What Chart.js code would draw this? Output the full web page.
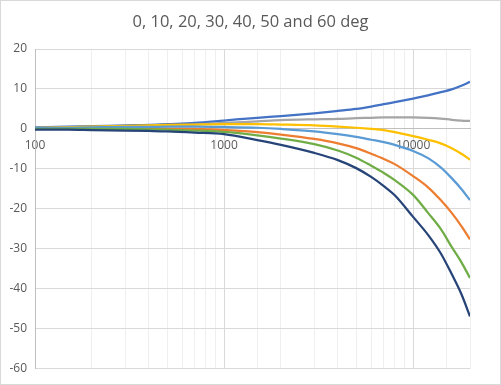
<!DOCTYPE html>
<html>
<head>
<meta charset="utf-8">
<script src="https://cdn.jsdelivr.net/npm/chart.js@4/dist/chart.umd.min.js"></script>
<style>
  html, body { margin: 0; padding: 0; background: #fff; }
  #wrap { width: 501px; height: 385px; box-sizing: border-box; border: 1px solid #D9D9D9; }
</style>
</head>
<body>
<div id="wrap"><canvas id="myChart" width="499" height="383"></canvas></div>
<script>
let freqs = [100, 150, 200, 300, 400, 500, 700, 1000, 1500, 2000, 3000, 4000, 5000, 6000, 7000, 8000, 10000, 12000, 14000, 16000, 18000, 20000];
let deg0 = [0.4, 0.6, 0.7, 0.9, 1.0, 1.2, 1.5, 2.1, 2.8, 3.2, 3.9, 4.5, 5.0, 5.6, 6.2, 6.7, 7.6, 8.4, 9.2, 9.9, 10.8, 11.8];
let deg10 = [0.2, 0.2, 0.2, 0.2, 0.1, 0.1, 0.0, -0.3, -0.8, -1.4, -2.5, -3.6, -4.8, -6.2, -7.5, -8.8, -11.8, -14.6, -17.8, -21.0, -24.3, -27.6];
let deg20 = [0.3, 0.4, 0.5, 0.6, 0.8, 0.9, 1.1, 1.5, 1.9, 2.2, 2.4, 2.5, 2.7, 2.8, 2.9, 2.9, 2.9, 2.8, 2.6, 2.3, 2.1, 2.0];
let deg30 = [0.2, 0.4, 0.6, 0.8, 0.9, 1.0, 1.1, 1.2, 1.2, 1.1, 0.9, 0.6, 0.3, 0.0, -0.3, -0.8, -1.8, -2.7, -3.6, -4.8, -6.2, -7.7];
let deg40 = [0.2, 0.3, 0.4, 0.5, 0.5, 0.6, 0.6, 0.5, 0.3, 0.0, -0.6, -1.3, -2.0, -2.7, -3.3, -4.0, -5.5, -7.3, -9.6, -12.3, -15.0, -17.8];
let deg50 = [0.0, 0.0, 0.0, 0.0, -0.1, -0.2, -0.4, -0.75, -1.6, -2.4, -3.8, -5.4, -7.2, -9.2, -11.0, -12.8, -16.5, -21.0, -25.0, -29.5, -33.3, -37.3];
let deg60 = [-0.2, -0.2, -0.3, -0.4, -0.5, -0.6, -0.9, -1.3, -2.8, -4.0, -6.0, -7.8, -9.8, -12.0, -14.3, -16.6, -22.0, -26.5, -31.1, -36.3, -41.3, -46.9];
let seriesNames = ['0 deg', '10 deg', '20 deg', '30 deg', '40 deg', '50 deg', '60 deg'];
let seriesColors = ['#4472C4', '#ED7D31', '#A5A5A5', '#FFC000', '#5B9BD5', '#70AD47', '#264478'];
let yTicks = [-60, -50, -40, -30, -20, -10, 0, 10, 20];
let titleText = '0, 10, 20, 30, 40, 50 and 60 deg';

const allSeries = [deg0, deg10, deg20, deg30, deg40, deg50, deg60];
const datasets = allSeries.map((vals, i) => ({
    label: seriesNames[i],
    data: vals.map((v, k) => ({ x: freqs[k], y: v })),
    borderColor: seriesColors[i],
    backgroundColor: seriesColors[i],
    borderWidth: 2.25,
    pointRadius: 0,
    cubicInterpolationMode: 'monotone',
    fill: false,
    order: allSeries.length - i,
}));

// title centred on the whole canvas, like the Excel chart
const centerTitle = {
    id: 'centerTitle',
    afterDraw(chart) {
        const c = chart.ctx;
        c.save();
        c.fillStyle = '#595959';
        c.font = '16.5px "Open Sans"';
        c.textAlign = 'center';
        c.textBaseline = 'middle';
        c.fillText(titleText, chart.width / 2, 21);
        c.restore();
    }
};

const ctx = document.getElementById('myChart').getContext('2d');
const myChart = new Chart(ctx, {
    type: 'line',
    data: { datasets: datasets },
    plugins: [centerTitle],
    options: {
        responsive: false,
        animation: false,
        layout: { padding: { left: 0, right: 30, bottom: 15, top: 48 } },
        plugins: {
            legend: { display: false },
            tooltip: { enabled: false },
            title: { display: false }
        },
        scales: {
            x: {
                type: 'logarithmic',
                position: { y: 0 },
                min: 100,
                max: 20000,
                grid: {
                    drawTicks: false,
                    color: c => {
                        const v = c.tick ? c.tick.value : 0;
                        const l = Math.log10(v);
                        return Math.abs(l - Math.round(l)) < 1e-6 ? '#D9D9D9' : '#EFEFEF';
                    }
                },
                border: { color: '#BFBFBF' },
                ticks: {
                    autoSkip: false,
                    maxRotation: 0,
                    padding: 9,
                    color: '#595959',
                    font: { family: 'Open Sans', size: 12 },
                    callback: v => ([100, 1000, 10000].includes(v) ? String(v) : '')
                }
            },
            y: {
                min: -60,
                max: 20,
                afterBuildTicks: s => { s.ticks = yTicks.map(v => ({ value: v })); },
                afterFit: s => { s.width = 34; },
                grid: { drawTicks: false, color: '#D9D9D9' },
                border: { color: '#BFBFBF' },
                ticks: {
                    padding: 8,
                    color: '#595959',
                    font: { family: 'Open Sans', size: 12 }
                }
            }
        }
    }
});
</script>
</body>
</html>
